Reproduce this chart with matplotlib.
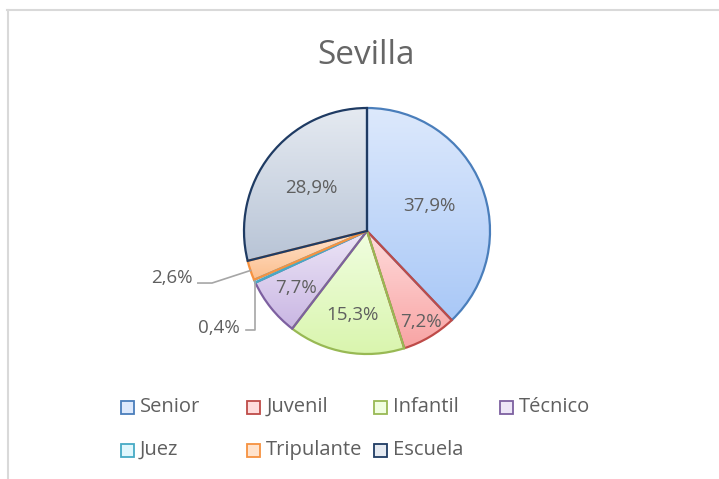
import numpy as np
import matplotlib.pyplot as plt
from matplotlib.colors import LinearSegmentedColormap
from matplotlib.patches import Rectangle
from matplotlib.lines import Line2D

plt.rcParams['font.family'] = ['Open Sans', 'DejaVu Sans']

# data
categories = ['Senior', 'Juvenil', 'Infantil', 'Técnico', 'Juez', 'Tripulante', 'Escuela']
values = [37.9, 7.2, 15.3, 7.7, 0.4, 2.6, 28.9]
title = 'Sevilla'

# styles (edge colour, light fill, dark fill)
edge_colors = ['#4a7ebb', '#be4b48', '#98b954', '#7d60a0', '#46aac5', '#f69240', '#1f3b63']
light_fill = ['#dde9fc', '#ffdcdc', '#f0fee0', '#ede6f7', '#e0f7fd', '#ffe3cd', '#e5eaf1']
dark_fill = ['#a9c8f7', '#f8a4a4', '#d9f5ad', '#c9b6e3', '#a6e2f2', '#fcbf8e', '#b8c4d6']
label_dist = [0.55, 0.86, 0.69, 0.74, None, None, 0.57]
text_col = '#5f5f5f'

W, H = 719, 479
fig = plt.figure(figsize=(W / 100, H / 100), dpi=100)

def fx(px):
    return px / W

def fy(py):
    return 1 - py / H

# axes so that pie centre sits at (367, 231) px with radius 123 px
R = 123
half = 1.1 * R
ax = fig.add_axes([fx(367 - half), fy(231 + half), 2 * half / W, 2 * half / H])

wedges, _ = ax.pie(values, startangle=90, counterclock=False, radius=1,
                   wedgeprops=dict(linewidth=1.6, facecolor='none'))

# vertical gradient fill per slice, clipped to the wedge
grad = np.linspace(0, 1, 256).reshape(-1, 1)
for i, w in enumerate(wedges):
    w.set_edgecolor(edge_colors[i])
    w.set_facecolor('none')
    v = w.get_path().vertices
    cmap = LinearSegmentedColormap.from_list('g%d' % i, [dark_fill[i], light_fill[i]])
    im = ax.imshow(grad, extent=[v[:, 0].min(), v[:, 0].max(), v[:, 1].min(), v[:, 1].max()],
                   origin='lower', cmap=cmap, aspect='auto', zorder=0, interpolation='bilinear')
    im.set_clip_path(w)

ax.set_xlim(-1.1, 1.1)
ax.set_ylim(-1.1, 1.1)
ax.set_aspect('equal')
ax.axis('off')

def pct(v):
    return ('%.1f%%' % v).replace('.', ',')

for i, w in enumerate(wedges):
    mid = np.deg2rad((w.theta1 + w.theta2) / 2)
    if label_dist[i] is not None:
        d = label_dist[i]
        ax.text(d * np.cos(mid), d * np.sin(mid), pct(values[i]), ha='center', va='center',
                fontsize=13.5, color=text_col)

# small slices: label outside with a leader line to the rim
leader = '#a6a6a6'
small = {4: (-1.035, -0.785, -0.985, -0.805, None),
         5: (-1.415, -0.385, -1.375, -0.423, -1.26)}
for i, (tx, ty, lx, ly, kx) in small.items():
    w = wedges[i]
    mid = np.deg2rad((w.theta1 + w.theta2) / 2)
    ex, ey = np.cos(mid), np.sin(mid)
    ax.text(tx, ty, pct(values[i]), ha='right', va='center', fontsize=13.5, color=text_col)
    if kx is None:
        xs, ys = [lx, ex, ex], [ly, ly, ey]
    else:
        xs, ys = [lx, kx, ex], [ly, ly, ey]
    ax.plot(xs, ys, color=leader, lw=1.2, clip_on=False, zorder=3)

# title
fig.text(fx(366), fy(55), title, ha='center', va='center', fontsize=24, color='#666666')

# legend laid out like Excel (row-major, 4 columns)
sq = 13
for k, name in enumerate(categories):
    row, col = divmod(k, 4)
    x0 = 121 + 126.3 * col
    yc = 407 + 43 * row
    fig.add_artist(Rectangle((fx(x0), fy(yc + sq / 2)), sq / W, sq / H, transform=fig.transFigure,
                             facecolor=light_fill[k], edgecolor=edge_colors[k], lw=1.3))
    fig.text(fx(x0 + 19), fy(yc), name, ha='left', va='center', fontsize=14.5, color=text_col)

# chart area border (top and left only visible)
fig.add_artist(Line2D([fx(7), fx(719)], [fy(10), fy(10)], color='#d9d9d9', lw=1.5))
fig.add_artist(Line2D([fx(8), fx(8)], [fy(10), fy(479)], color='#d9d9d9', lw=1.5))

fig.savefig('out.png', dpi=100)
